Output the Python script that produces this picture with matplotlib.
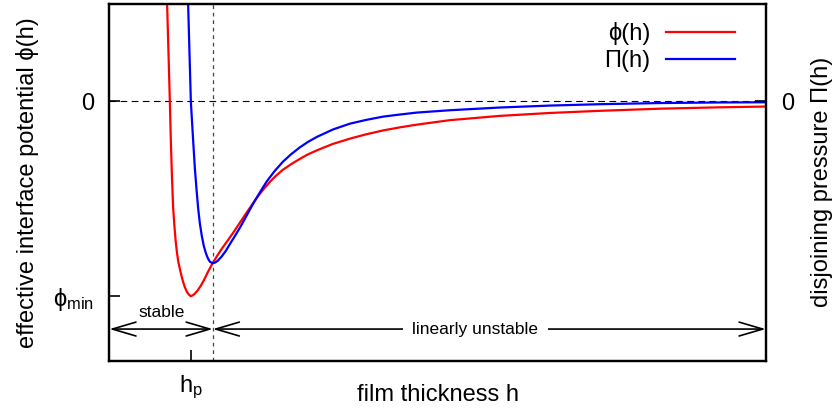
import numpy as np
import matplotlib
matplotlib.use("Agg")
import matplotlib.pyplot as plt

plt.rcParams['font.family'] = ['Liberation Sans', 'DejaVu Sans']
plt.rcParams['mathtext.fontset'] = 'custom'
plt.rcParams['mathtext.rm'] = 'Liberation Sans'
plt.rcParams['mathtext.it'] = 'Liberation Sans:italic'

# effective interface potential phi(h) (phi_min = -1)
h_phi = [0.697, 0.704, 0.737, 0.749, 0.762, 0.777, 0.792, 0.807, 0.823, 0.841, 0.871,
         0.896, 0.920, 0.944, 0.969, 0.993, 1.018, 1.042, 1.078, 1.115, 1.152, 1.200,
         1.255, 1.310, 1.371, 1.444, 1.509, 1.590, 1.663, 1.737, 1.810, 1.883, 1.956,
         2.029, 2.114, 2.212, 2.321, 2.419, 2.529, 2.724, 2.931, 3.126, 3.333, 3.540,
         3.747, 4.149, 4.759, 5.368, 5.977, 6.708, 7.440, 8.0]
phi = [0.6, 0.497, 0.0, -0.200, -0.379, -0.544, -0.636, -0.713, -0.774, -0.826, -0.882,
       -0.923, -0.954, -0.977, -0.992, -1.0, -0.995, -0.987, -0.969, -0.946, -0.918, -0.877,
       -0.833, -0.795, -0.756, -0.713, -0.674, -0.623, -0.577, -0.531, -0.487, -0.449, -0.413,
       -0.382, -0.351, -0.323, -0.295, -0.272, -0.251, -0.218, -0.191, -0.169, -0.149, -0.133,
       -0.119, -0.096, -0.074, -0.059, -0.048, -0.037, -0.030, -0.026]

# disjoining pressure Pi(h), same scale
h_pi = [0.953, 0.960, 0.993, 1.021, 1.042, 1.063, 1.082, 1.103, 1.127, 1.152, 1.176,
        1.200, 1.225, 1.258, 1.286, 1.322, 1.371, 1.420, 1.468, 1.529, 1.590, 1.651,
        1.712, 1.773, 1.846, 1.919, 2.017, 2.114, 2.212, 2.321, 2.419, 2.529, 2.724,
        2.931, 3.126, 3.333, 3.540, 3.747, 4.149, 4.759, 5.368, 5.977, 6.708, 7.440, 8.0]
pi = [0.6, 0.497, 0.0, -0.200, -0.344, -0.456, -0.549, -0.627, -0.692, -0.744, -0.779,
      -0.805, -0.823, -0.831, -0.828, -0.818, -0.795, -0.767, -0.733, -0.692, -0.649, -0.603,
      -0.556, -0.510, -0.459, -0.410, -0.356, -0.310, -0.272, -0.236, -0.208, -0.182, -0.144,
      -0.114, -0.095, -0.078, -0.067, -0.057, -0.045, -0.031, -0.021, -0.014, -0.008, -0.005,
      -0.004]

h_p = 1.0        # minimum of phi
h_lin = 1.26     # minimum of Pi, stability border
phi_min = -1.0
y_arrow = -1.169

fig = plt.figure(figsize=(8.35, 4.15), dpi=100)
ax = fig.add_axes([0.131, 0.130, 0.786, 0.860])
ax.set_xlim(0, 8)
ax.set_ylim(-4 / 3, 0.5)

ax.axhline(0, color='black', lw=0.8, ls=(0, (6, 4)), zorder=1)
ax.axvline(h_lin, color='#444444', lw=0.9, ls=(0, (3, 3)), zorder=1)

ax.plot(h_phi, phi, color='#ff0000', lw=1.6, label='ϕ(h)', zorder=3)
ax.plot(h_pi, pi, color='#0000ff', lw=1.6, label='Π(h)', zorder=3)

ax.legend(loc='upper right', bbox_to_anchor=(0.953, 0.95), frameon=False,
          markerfirst=False, handlelength=2.9, handletextpad=0.68,
          labelspacing=0.23, borderpad=0, borderaxespad=0, fontsize=17)

arrow = dict(arrowstyle='<->,head_length=1.7,head_width=0.5', lw=1.2,
             color='black', shrinkA=0, shrinkB=0, mutation_scale=10)
ax.annotate('', xy=(0, y_arrow), xytext=(h_lin, y_arrow), arrowprops=arrow)
ax.annotate('', xy=(h_lin, y_arrow), xytext=(8, y_arrow), arrowprops=arrow)
ax.text(0.64, -1.082, 'stable', ha='center', va='center', fontsize=12.5)
ax.text(4.46, y_arrow, 'linearly unstable', ha='center', va='center', fontsize=12.5,
        bbox=dict(fc='white', ec='none', pad=7), zorder=4)

ax.set_xticks([h_p])
ax.set_xticklabels([r'$\mathregular{h_p}$'])
ax.set_yticks([phi_min, 0])
ax.set_yticklabels([r'$\mathregular{ϕ_{min}}$', '0'])
ax.tick_params(direction='in', length=8, width=1.2, labelsize=17, pad=11)
ax.tick_params(axis='x', pad=9)

ax2 = ax.twinx()
ax2.set_ylim(ax.get_ylim())
ax2.set_yticks([0])
ax2.set_yticklabels(['0'])
ax2.tick_params(direction='in', length=8, width=1.2, labelsize=17, pad=11)

for a in (ax, ax2):
    for s in a.spines.values():
        s.set_linewidth(1.6)

ax.set_xlabel('film thickness h', fontsize=17)
ax.xaxis.set_label_coords(0.5, -0.065)
ax.xaxis.label.set_va('top')
fig.text(0.033, 0.561, 'effective interface potential ϕ(h)', rotation=90,
         ha='center', va='center', fontsize=17)
fig.text(0.985, 0.561, 'disjoining pressure Π(h)', rotation=90,
         ha='center', va='center', fontsize=17)

fig.savefig('out.png', dpi=100)
